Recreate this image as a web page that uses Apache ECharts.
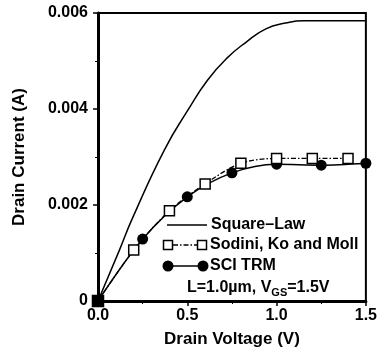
<!DOCTYPE html>
<html>
<head>
<meta charset="utf-8">
<script src="https://cdn.jsdelivr.net/npm/echarts@6/dist/echarts.min.js"></script>
<style>
  html, body { margin: 0; padding: 0; background: #fff; }
  #chart { width: 380px; height: 353px; }
</style>
</head>
<body>
<div id="chart"></div>
<script>
// values
const squareLawX = [0, 0.12, 0.19, 0.372, 0.504, 0.613, 0.722, 0.832, 0.94, 1.05, 1.15, 1.5];
const squareLawY = [0, 0.00106, 0.00170, 0.00315, 0.00398, 0.00460, 0.00506, 0.00540, 0.00567, 0.00579, 0.00584, 0.00584];
const sodiniX = [0, 0.2, 0.4, 0.6, 0.8, 1.0, 1.2, 1.4];
const sodiniY = [0, 0.00106, 0.00188, 0.00244, 0.00287, 0.00297, 0.00297, 0.00297];
const sciX = [0, 0.25, 0.5, 0.75, 1.0, 1.25, 1.5];
const sciY = [0, 0.00129, 0.00217, 0.00267, 0.00285, 0.00283, 0.00287];
const legendNames = ['Square\u2013Law', 'Sodini, Ko and Moll', 'SCI TRM'];

const FONT = '"Liberation Sans", Arial, sans-serif';
const DASHDOT = [5, 2, 1.5, 2];

const pairs = (xs, ys) => xs.map((x, i) => [x, ys[i]]);

const chart = echarts.init(document.getElementById('chart'));

const sodiniData = pairs(sodiniX, sodiniY).map((p, i) => i === 0
  ? { value: p, symbol: 'rect', symbolSize: 11, itemStyle: { color: '#000', borderColor: '#000' } }
  : p);

chart.setOption({
  animation: false,
  backgroundColor: '#fff',
  grid: { left: 98, right: 9, top: 13, bottom: 52, show: true, borderColor: '#000', borderWidth: 2 },
  xAxis: {
    type: 'value', min: 0, max: 1.5, interval: 0.5,
    name: 'Drain Voltage (V)', nameLocation: 'middle', nameGap: 30,
    nameTextStyle: { fontFamily: FONT, fontWeight: 'bold', fontSize: 17, color: '#000' },
    axisLine: { lineStyle: { color: '#000', width: 3 } },
    axisTick: { show: true, length: 5, lineStyle: { color: '#000', width: 1.5 } },
    minorTick: { show: true, splitNumber: 2, length: 3, lineStyle: { color: '#000', width: 1 } },
    splitLine: { show: false },
    axisLabel: { fontFamily: FONT, fontWeight: 'bold', fontSize: 16, color: '#000', margin: 7,
      formatter: v => v.toFixed(1) }
  },
  yAxis: {
    type: 'value', min: 0, max: 0.006, interval: 0.002,
    name: 'Drain Current (A)', nameLocation: 'middle', nameGap: 70,
    nameTextStyle: { fontFamily: FONT, fontWeight: 'bold', fontSize: 17, color: '#000' },
    axisLine: { lineStyle: { color: '#000', width: 3 } },
    axisTick: { show: true, length: 5, lineStyle: { color: '#000', width: 1.5 } },
    minorTick: { show: true, splitNumber: 2, length: 3, lineStyle: { color: '#000', width: 1 } },
    splitLine: { show: false },
    axisLabel: { fontFamily: FONT, fontWeight: 'bold', fontSize: 16, color: '#000', margin: 10,
      formatter: v => v === 0 ? '0' : v.toFixed(3) }
  },
  graphic: [
    // legend row 1
    { type: 'line', shape: { x1: 167, y1: 225, x2: 207, y2: 225 }, style: { stroke: '#000', lineWidth: 1.5 } },
    { type: 'text', x: 211, y: 225, style: { text: legendNames[0], font: 'bold 16px ' + FONT, fill: '#000', verticalAlign: 'middle' } },
    // legend row 2
    { type: 'line', shape: { x1: 173, y1: 245, x2: 197, y2: 245 }, style: { stroke: '#000', lineWidth: 1.3, lineDash: DASHDOT } },
    { type: 'rect', shape: { x: 163.5, y: 240.5, width: 9, height: 9 }, style: { fill: '#fff', stroke: '#000', lineWidth: 1.5 } },
    { type: 'rect', shape: { x: 197.5, y: 240.5, width: 9, height: 9 }, style: { fill: '#fff', stroke: '#000', lineWidth: 1.5 } },
    { type: 'text', x: 210, y: 245, style: { text: legendNames[1], font: 'bold 16px ' + FONT, fill: '#000', verticalAlign: 'middle' } },
    // legend row 3
    { type: 'line', shape: { x1: 168, y1: 266, x2: 203, y2: 266 }, style: { stroke: '#000', lineWidth: 1.5 } },
    { type: 'circle', shape: { cx: 168, cy: 266, r: 5.5 }, style: { fill: '#000' } },
    { type: 'circle', shape: { cx: 203, cy: 266, r: 5.5 }, style: { fill: '#000' } },
    { type: 'text', x: 210, y: 266, style: { text: legendNames[2], font: 'bold 16px ' + FONT, fill: '#000', verticalAlign: 'middle' } },
    // annotation
    { type: 'text', x: 187, y: 288, style: {
      text: '{m|L=1.0\u00b5m, V}{s|GS}{m|=1.5V}',
      verticalAlign: 'middle',
      rich: {
        m: { font: 'bold 16px ' + FONT, fill: '#000' },
        s: { font: 'bold 11px ' + FONT, fill: '#000', padding: [9, 0, 0, 0] }
      }
    } }
  ],
  series: [
    {
      name: legendNames[0], type: 'line', smooth: 0.5, symbol: 'none',
      lineStyle: { color: '#000', width: 1.5 },
      data: pairs(squareLawX, squareLawY)
    },
    {
      name: legendNames[2], type: 'line', smooth: 0.3, symbol: 'circle', symbolSize: 11,
      itemStyle: { color: '#000' },
      lineStyle: { color: '#000', width: 1.5 },
      data: pairs(sciX, sciY)
    },
    {
      name: legendNames[1], type: 'line', smooth: 0.3, symbol: 'rect', symbolSize: 10, z: 4,
      itemStyle: { color: '#fff', borderColor: '#000', borderWidth: 1.5 },
      lineStyle: { color: '#000', width: 1.3, type: DASHDOT },
      data: sodiniData
    }
  ]
});
</script>
</body>
</html>
